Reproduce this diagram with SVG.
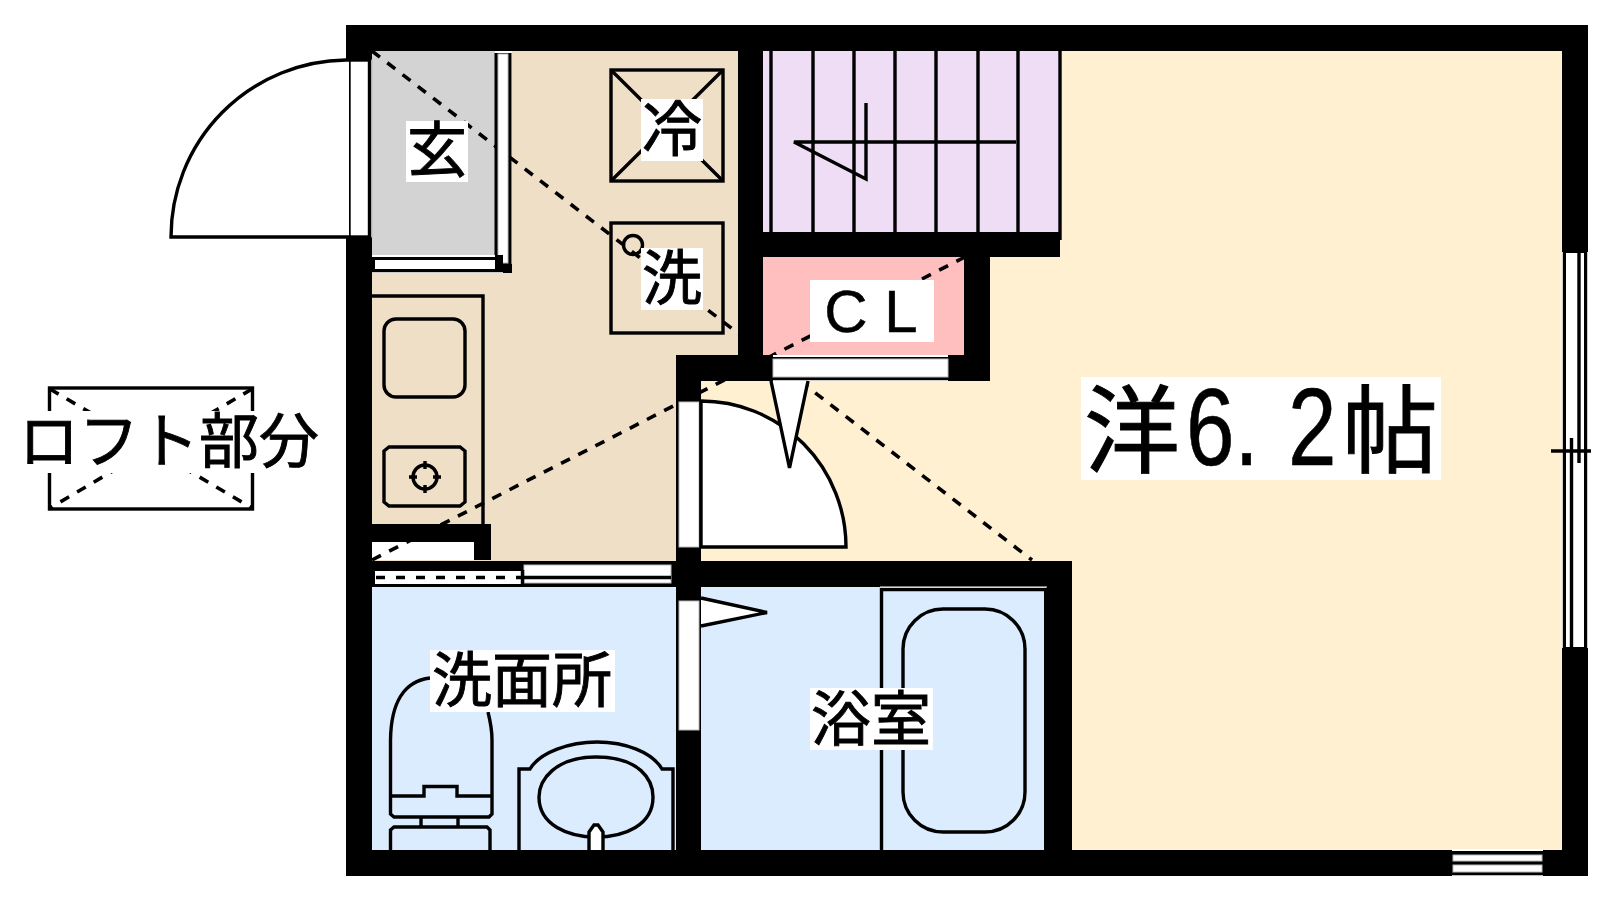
<svg xmlns="http://www.w3.org/2000/svg" width="1600" height="900" viewBox="0 0 1600 900">
<defs><style>
.w{fill:#000}
.l{fill:none;stroke:#000;stroke-width:3.4}
.lw{fill:#fff;stroke:#000;stroke-width:3.4}
.d{fill:none;stroke:#000;stroke-width:3.6;stroke-dasharray:10 9.300}
.g{fill:#fff;stroke:#bbb;stroke-width:1}
.t{font-family:"Noto Sans CJK JP","Liberation Sans",sans-serif;fill:#000;stroke:#000;stroke-width:.9;text-anchor:middle}
.n{font-family:"Liberation Sans",sans-serif;stroke-width:.6}
</style></defs>
<rect width="1600" height="900" fill="#fff"/>
<g id="floors">
<rect x="372" y="51" width="123" height="205" fill="#d3d3d3"/>
<path d="M512 51H738V358H676V562H372V273H512Z" fill="#efdfc7"/>
<rect x="763" y="51" width="297" height="181" fill="#eeddf5"/>
<rect x="763" y="257" width="201" height="98" fill="#ffbfbf"/>
<path d="M1060 51H1562V850H1072V561H701V381H990V257H1060Z" fill="#fef0d0"/>
<rect x="372" y="587" width="304" height="263" fill="#dbecff"/>
<rect x="701" y="587" width="345" height="263" fill="#dbecff"/>
<rect x="372" y="542" width="102" height="18" fill="#fff"/>
</g>
<g id="connectors">
<path class="d" d="M372 51L1032 560"/>
<path class="d" d="M372 560L965 257"/>
</g>
<g id="walls">
<path class="w" d="M346 25H1588V876H346ZM372 51V850H1562V51Z" fill-rule="evenodd"/>
<rect class="w" x="738" y="51" width="25" height="307"/>
<rect class="w" x="738" y="232" width="322" height="25"/>
<rect class="w" x="964" y="257" width="26" height="124"/>
<rect class="w" x="676" y="355" width="314" height="26"/>
<rect class="w" x="676" y="355" width="25" height="245"/>
<rect class="w" x="672" y="561" width="400" height="26"/>
<rect class="w" x="676" y="587" width="25" height="263"/>
<rect class="w" x="1046" y="561" width="26" height="289"/>
<rect class="w" x="372" y="524" width="119" height="18"/>
<rect class="w" x="474" y="524" width="17" height="36"/>
<rect class="w" x="372" y="561" width="304" height="26"/>
</g>
<g id="openings">
<rect class="g" x="346" y="60" width="26" height="177"/><rect class="lw" x="349" y="60" width="20.500" height="177"/>
<rect x="494.500" y="53" width="17" height="211" class="w"/><rect x="498" y="54" width="10" height="209" fill="#fff" stroke="#bbb"/>
<rect x="372" y="255" width="131" height="18" class="w"/><rect x="372" y="255" width="123" height="2" fill="#fff"/><rect x="375" y="260" width="120" height="9" fill="#fff"/><rect x="372" y="272" width="131" height="1" fill="#ccc"/>
<rect class="w" x="503" y="264" width="9" height="9"/>
<rect x="375" y="571" width="146" height="13" fill="#fff"/><path d="M376 577.500H521" class="l" stroke-dasharray="9 11"/>
<rect x="524" y="565" width="147" height="18" fill="#fff" stroke="#bbb"/><path d="M524 577.500H671M522.500 570V587" class="l"/>
<rect x="676" y="402" width="25" height="145" fill="#000"/><rect x="679" y="402" width="20" height="145" fill="#fff" stroke="#bbb"/>
<rect x="676" y="601" width="25" height="129" fill="#000"/><rect x="679" y="601" width="20" height="129" fill="#fff" stroke="#bbb"/>
<rect x="773" y="355" width="175" height="26" fill="#000"/><rect x="773" y="355" width="175" height="2" fill="#fff"/><rect x="773" y="359" width="175" height="18" fill="#fff" stroke="#bbb"/><rect x="773" y="380" width="175" height="1" fill="#ccc"/>
<rect x="1562" y="252" width="26" height="396" fill="#000"/>
<path d="M1562.500 252V648M1587.500 252V648" stroke="#ccc" fill="none"/>
<rect x="1566" y="253" width="18" height="394" fill="#fff"/>
<path class="l" d="M1579 252V463M1571.500 438V648M1551 451H1591"/>
</g>
<g id="bottom-window">
<rect x="1452" y="850" width="91" height="26" fill="#000"/><rect x="1452" y="849" width="91" height="2" fill="#fff"/><rect x="1453" y="855" width="89" height="6" fill="#fff" stroke="#bbb"/><rect x="1453" y="865" width="89" height="7" fill="#fff" stroke="#bbb"/><rect x="1452" y="875" width="91" height="1" fill="#bbb"/>
</g>
<g id="entry-door"><path class="lw" d="M349 60H346A177 177 0 0 0 171 237H349"/></g>
<g id="room-door"><path class="lw" d="M701 401A145 146 0 0 1 846 547H701Z"/><path class="lw" d="M771 381L789.500 468L808 381"/></g>
<g id="bath-door"><path class="lw" d="M701 598L767 612.500L701 626"/></g>
<g id="stairs"><path class="l" d="M771 51V232M813 51V232M854 51V232M895 51V232M936 51V232M978 51V232M1018 51V232M1060 51V240"/><path class="l" d="M1016 142H794L866 179V103"/></g>
<g id="kitchen"><path class="l" d="M372 296H483V524"/><rect class="l" x="384" y="319" width="81" height="78" rx="12"/><path class="l" d="M389 447H460L465 451V502L460 506H389L384 502V451Z"/><circle class="l" cx="425" cy="477" r="12"/><path class="l" d="M425 461V469M425 485V493M409 477H417M433 477H441"/></g>
<g id="fridge"><rect class="l" x="611" y="70" width="112" height="111"/><path class="l" d="M611 70L723 181M723 70L611 181"/></g>
<g id="washer"><rect class="l" x="611" y="223" width="112" height="110"/><circle class="l" cx="633" cy="245" r="9.500"/></g>
<g id="toilet"><path class="l" d="M430 678C404 681 391 703 390.500 740V814L394 817H489L492 814V740C492 730 490 720 488 712M390.500 796H424V786.500H457V796H492M421 817V827M458 817V827M390.500 850V830L394 827H487L490 830V850"/></g>
<g id="basin"><path class="l" d="M519 850V769H530C540 752 570 742 597 742C625 742 652 752 662 769H673V850"/><path class="l" d="M596 757C640 757 653 780 653 797C653 825 625 837 596 837C568 837 539 825 539 797C539 780 555 757 596 757Z"/><path class="lw" d="M589 850V832L594 825H598L603 832V850"/></g>
<g id="bathtub"><path d="M881.500 850V589.500H1047" class="l"/><rect x="1044" y="590" width="3" height="260" fill="#000"/><rect x="880" y="586.500" width="167" height="1" fill="#fff"/><rect class="l" x="903" y="609" width="122" height="223" rx="40"/></g>
<g id="loft"><rect class="l" x="49.500" y="388" width="203" height="121"/><path class="d" d="M50 389L252 508M252 389L50 508"/></g>
<g id="labels">
<rect x="406" y="121" width="62" height="61" fill="#fff"/><text class="t" x="437" y="172" font-size="60">玄</text>
<rect x="641" y="99" width="62" height="62" fill="#fff"/><text class="t" x="672" y="151" font-size="60">冷</text>
<rect x="641" y="248" width="62" height="62" fill="#fff"/><text class="t" x="672" y="300" font-size="60">洗</text>
<rect x="810" y="280" width="124" height="62" fill="#fff"/><text class="t" x="871" y="332" font-size="60" style="font-family:'Liberation Sans',sans-serif;stroke-width:.5">C L</text>
<rect x="430" y="650" width="185" height="62" fill="#fff"/><text class="t" x="522" y="702" font-size="60">洗面所</text>
<rect x="810" y="688" width="123" height="62" fill="#fff"/><text class="t" x="871" y="741" font-size="60">浴室</text>
<rect x="20" y="411" width="300" height="62" fill="#fff"/><text class="t" x="169" y="463" font-size="60">ロフト部分</text>
<rect x="1081" y="377" width="360" height="103" fill="#fff"/>
<text class="t" y="465" font-size="96" style="text-anchor:start"><tspan x="1084">洋</tspan><tspan class="n" x="1186" dx="0 0 36.600" font-size="109" textLength="150.500" lengthAdjust="spacingAndGlyphs">6.2</tspan><tspan x="1342">帖</tspan></text>
</g>
</svg>
